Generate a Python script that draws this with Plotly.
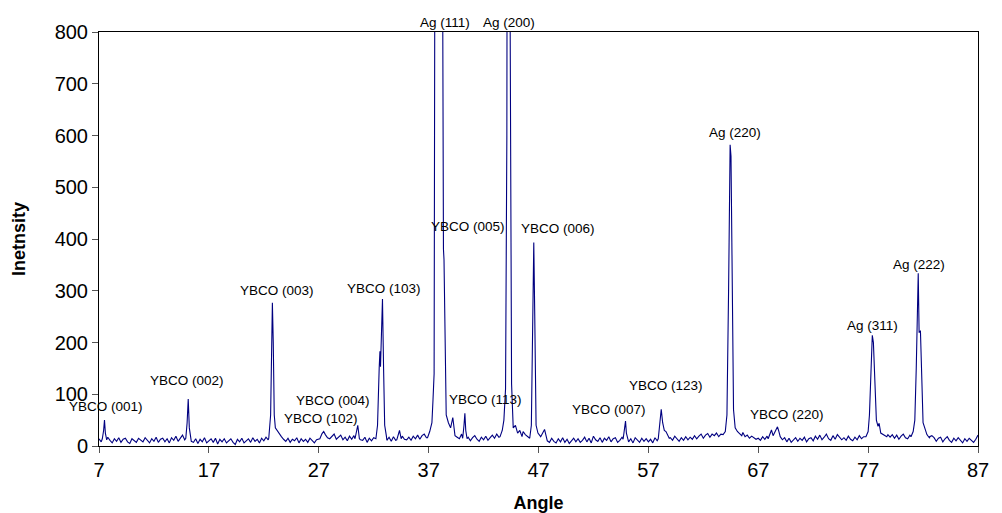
import numpy as np
import plotly.graph_objects as go

# ---------------- data ----------------
bg_start = 7.0
bg_step = 0.2
bg_intensity = [
    14, 8, 15, 7, 17, 11, 6, 14, 9, 16, 7, 13, 15, 8, 5, 14, 10, 7, 15, 11,
    8, 16, 11, 6, 14, 9, 17, 7, 13, 15, 8, 14, 6, 16, 11, 19, 9, 15, 21, 12,
    12, 15, 9, 7, 14, 5, 13, 8, 16, 6, 10, 14, 7, 15, 4, 13, 8, 14, 6, 10,
    14, 7, 3, 13, 8, 15, 6, 10, 14, 7, 16, 9, 13, 6, 15, 10, 17, 12, 11, 16,
    30, 22, 18, 15, 13, 9, 15, 7, 13, 10, 16, 6, 14, 9, 13, 7, 15, 10, 6, 12,
    13, 16, 22, 25, 20, 14, 19, 23, 13, 18, 21, 12, 17, 10, 19, 13, 20, 23, 14, 12,
    11, 17, 7, 15, 10, 16, 12, 8, 18, 20, 13, 11, 17, 9, 18, 11, 16, 12, 19, 13,
    12, 17, 11, 19, 14, 21, 13, 20, 23, 16, 25, 19, 28, 32, 30, 30, 30, 30, 30, 40,
    38, 25, 20, 17, 14, 23, 16, 11, 17, 10, 16, 20, 13, 9, 17, 12, 19, 11, 16, 21,
    15, 23, 17, 25, 30, 40, 40, 40, 30, 30, 30, 25, 20, 28, 22, 18, 20, 25, 20, 25,
    22, 14, 13, 19, 10, 7, 15, 9, 6, 14, 8, 16, 7, 13, 5, 10, 15, 8, 14, 7,
    11, 17, 8, 15, 6, 19, 12, 9, 16, 7, 15, 11, 18, 8, 14, 16, 7, 11, 17, 10,
    15, 8, 14, 6, 16, 11, 7, 15, 9, 14, 8, 13, 6, 16, 10, 20, 20, 30, 24, 20,
    16, 11, 19, 13, 9, 16, 11, 18, 12, 17, 13, 20, 14, 19, 23, 15, 21, 24, 17, 23,
    20, 25, 18, 23, 25, 30, 30, 30, 30, 30, 30, 28, 22, 26, 18, 21, 15, 19, 16, 13,
    15, 11, 18, 13, 19, 14, 20, 20, 20, 20, 20, 20, 16, 8, 15, 7, 12, 16, 9, 15,
    11, 17, 8, 14, 16, 10, 19, 13, 21, 12, 17, 23, 14, 11, 20, 13, 22, 17, 12, 16,
    11, 19, 13, 10, 17, 12, 20, 14, 18, 22, 28, 28, 28, 28, 28, 28, 28, 25, 20, 22,
    17, 22, 15, 21, 13, 19, 23, 16, 14, 21, 24, 25, 25, 25, 25, 25, 25, 30, 18, 20,
    16, 9, 15, 17, 8, 14, 18, 11, 7, 15, 10, 16, 11, 6, 14, 9, 15, 10, 7, 13,
    21,
]

# Peak profiles (angle, intensity)
p001_x = [7.3, 7.42, 7.5, 7.58, 7.7]
p001_y = [14, 30, 50, 25, 12]
p002_x = [14.9, 15.02, 15.12, 15.22, 15.35]
p002_y = [15, 45, 91, 35, 14]
p003_x = [22.45, 22.62, 22.72, 22.78, 22.86, 22.95, 23.05, 23.2, 23.4, 23.6]
p003_y = [15, 60, 230, 277, 200, 60, 35, 30, 22, 18]
p004_x = [27.1, 27.3, 27.45, 27.6, 27.8]
p004_y = [14, 24, 28, 22, 16]
p102_x = [30.3, 30.45, 30.55, 30.7]
p102_y = [14, 30, 40, 14]
p103_x = [32.2, 32.35, 32.5, 32.57, 32.62, 32.7, 32.8, 32.9, 33.0, 33.15]
p103_y = [14, 40, 150, 183, 153, 240, 284, 150, 40, 20]
p34_x = [34.1, 34.25, 34.35, 34.5]
p34_y = [12, 22, 30, 14]
ag111_x = [36.9, 37.1, 37.3, 37.4, 37.5, 37.57, 37.8, 38.1, 38.26, 38.3, 38.35, 38.4, 38.5, 38.6, 38.8, 39.0, 39.2, 39.35]
ag111_y = [16, 28, 45, 90, 140, 1000, 2500, 2500, 1000, 420, 380, 360, 150, 60, 45, 35, 55, 30]
p113_x = [40.1, 40.22, 40.3, 40.38, 40.5]
p113_y = [15, 40, 63, 30, 14]
ag200_x = [43.5, 43.7, 43.85, 44.0, 44.12, 44.2, 44.35, 44.45, 44.55, 44.7, 44.9, 45.1, 45.3, 45.5]
ag200_y = [18, 30, 50, 110, 600, 2000, 2000, 600, 120, 35, 40, 25, 30, 18]
p006_x = [46.2, 46.35, 46.48, 46.57, 46.66, 46.78, 46.95, 47.2, 47.55, 47.7]
p006_y = [15, 40, 250, 393, 250, 40, 25, 18, 32, 15]
p007_x = [54.7, 54.83, 54.92, 55.0, 55.15]
p007_y = [13, 30, 48, 25, 14]
p123_x = [57.9, 58.05, 58.17, 58.3, 58.45, 58.6, 58.75, 58.9]
p123_y = [14, 40, 71, 45, 30, 28, 22, 15]
ag220_x = [63.8, 64.0, 64.15, 64.3, 64.44, 64.52, 64.62, 64.75, 64.9, 65.1, 65.3, 65.5]
ag220_y = [22, 28, 60, 300, 582, 560, 300, 70, 35, 28, 24, 20]
y220_x = [67.9, 68.1, 68.2, 68.35, 68.5, 68.65, 68.75, 68.85, 69.0, 69.2]
y220_y = [14, 25, 31, 20, 26, 35, 37, 30, 18, 12]
ag311_x = [76.8, 77.0, 77.12, 77.25, 77.38, 77.48, 77.6, 77.75, 77.9, 78.0, 78.15, 78.4, 78.7]
ag311_y = [18, 28, 60, 160, 214, 200, 120, 50, 38, 44, 25, 22, 18]
ag222_x = [80.9, 81.1, 81.25, 81.38, 81.5, 81.56, 81.64, 81.7, 81.76, 81.8, 81.9, 82.0, 82.15, 82.35, 82.6]
ag222_y = [18, 28, 50, 150, 330, 334, 220, 220, 223, 202, 120, 45, 35, 22, 15]

peaks = [
    (p001_x, p001_y), (p002_x, p002_y), (p003_x, p003_y), (p004_x, p004_y),
    (p102_x, p102_y), (p103_x, p103_y), (p34_x, p34_y), (ag111_x, ag111_y),
    (p113_x, p113_y), (ag200_x, ag200_y), (p006_x, p006_y), (p007_x, p007_y),
    (p123_x, p123_y), (ag220_x, ag220_y), (y220_x, y220_y), (ag311_x, ag311_y),
    (ag222_x, ag222_y),
]

label_text = ["YBCO (001)", "YBCO (002)", "YBCO (003)", "YBCO (004)", "YBCO (102)",
              "YBCO (103)", "Ag (111)", "YBCO (005)", "Ag (200)", "YBCO (113)",
              "YBCO (006)", "YBCO (007)", "YBCO (123)", "Ag (220)", "YBCO (220)",
              "Ag (311)", "Ag (222)"]
label_x = [7.64, 15.0, 23.2, 28.26, 27.2, 32.93, 38.48, 40.55, 44.33, 42.2,
           48.73, 53.45, 58.56, 64.87, 69.63, 77.4, 81.62]
label_y = [76, 127, 301, 88, 54, 305, 800, 424, 800, 89,
           421, 71, 116, 606, 61, 232, 351]

x_ticks = [7, 17, 27, 37, 47, 57, 67, 77, 87]

# ---------------- build trace ----------------
bg_x = bg_start + bg_step * np.arange(len(bg_intensity))
pts = []
for ang, val in zip(bg_x, bg_intensity):
    inside = any(px[0] <= ang <= px[-1] for px, _ in peaks)
    if not inside:
        pts.append((float(ang), val))
for px, py in peaks:
    pts.extend(zip(px, py))
pts.sort(key=lambda p: p[0])
xs = [p[0] for p in pts]
ys = [p[1] for p in pts]

fig = go.Figure()
fig.add_trace(go.Scatter(x=xs, y=ys, mode="lines",
                         line=dict(color="#000080", width=1.1),
                         showlegend=False, hoverinfo="skip"))

font_family = "Liberation Sans, Arial, Helvetica, sans-serif"
for t, lx, ly in zip(label_text, label_x, label_y):
    top = ly >= 800
    fig.add_annotation(x=lx, y=ly, text=t, showarrow=False,
                       xanchor="center", yanchor="bottom" if top else "middle",
                       yshift=0,
                       font=dict(family=font_family, size=13.5, color="black"))

fig.update_layout(
    width=1002, height=513,
    margin=dict(l=91, r=32, t=24, b=75),
    paper_bgcolor="white", plot_bgcolor="white",
    font=dict(family=font_family, color="black"),
    showlegend=False,
)
fig.update_xaxes(range=[7, 87], tickvals=x_ticks, ticktext=[str(v) for v in x_ticks],
                 automargin=False,
                 showgrid=False, zeroline=False,
                 showline=True, linecolor="black", linewidth=1, mirror=True,
                 ticks="outside", ticklen=6, tickcolor="#555555",
                 tickfont=dict(size=20, family=font_family, color="black"),
                 title=dict(text="<b>Angle</b>", standoff=16,
                            font=dict(size=18, family=font_family, color="black")))
fig.update_yaxes(range=[0, 800], dtick=100, tick0=0,
                 automargin=False,
                 showgrid=False, zeroline=False,
                 showline=True, linecolor="black", linewidth=1, mirror=True,
                 ticks="outside", ticklen=6, tickcolor="#555555",
                 tickfont=dict(size=20, family=font_family, color="black"),
                 title=dict(text="<b>Inetnsity</b>", standoff=24,
                            font=dict(size=18, family=font_family, color="black")))

fig.write_html("out.html")
